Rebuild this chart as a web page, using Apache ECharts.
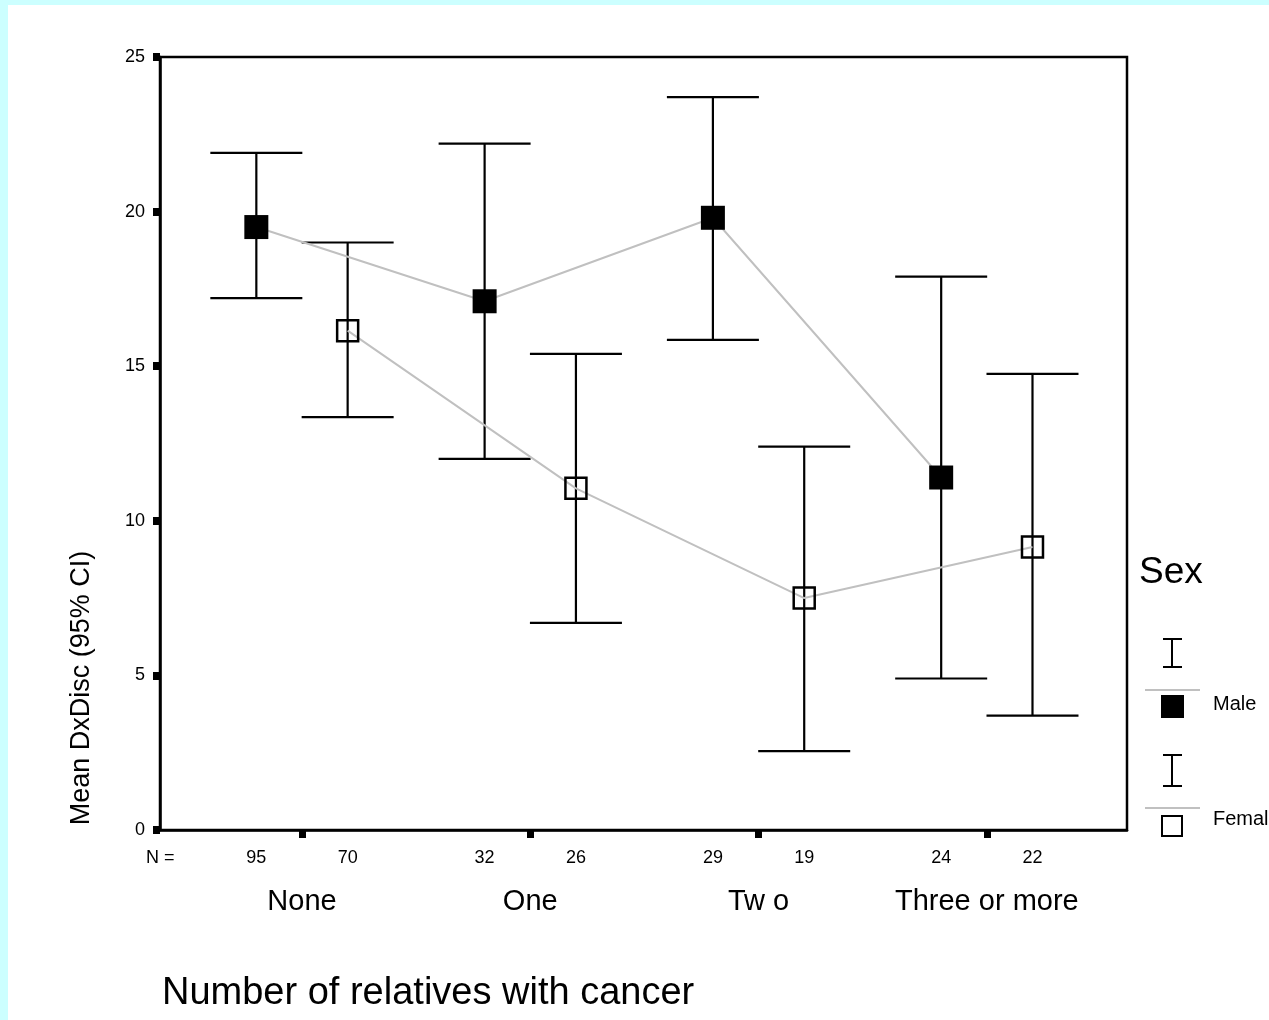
<!DOCTYPE html>
<html>
<head>
<meta charset="utf-8">
<script src="https://cdn.jsdelivr.net/npm/echarts@6/dist/echarts.min.js"></script>
<style>
  html, body { margin: 0; padding: 0; background: #ccffff; }
  #bg { position: absolute; left: 8px; top: 5px; width: 1261px; height: 1015px; background: #fff; }
  #main { position: absolute; left: 0; top: 0; width: 1269px; height: 1020px; }
</style>
</head>
<body>
<div id="bg"></div>
<div id="main"></div>
<script>
// groups on the x axis
var categories = ['None', 'One', 'Tw o', 'Three or more'];
var yTicks = [0, 5, 10, 15, 20, 25];

// Male: mean and 95% CI
var maleMean = [19.5, 17.1, 19.8, 11.4];
var maleLow = [17.2, 12.0, 15.85, 4.9];
var maleHigh = [21.9, 22.2, 23.7, 17.9];
var maleN = [95, 32, 29, 24];

// Female: mean and 95% CI
var femaleMean = [16.15, 11.05, 7.5, 9.15];
var femaleLow = [13.35, 6.7, 2.55, 3.7];
var femaleHigh = [19.0, 15.4, 12.4, 14.75];
var femaleN = [70, 26, 19, 22];

var FONT = '"Liberation Sans", Arial, sans-serif';
var shift = 0.2;   // male left of group centre, female right

function pts(means, sign) {
    var out = [];
    for (var i = 0; i < means.length; i++) {
        out.push([i + sign * shift, means[i]]);
    }
    return out;
}
function bars(lows, highs, ns, sign) {
    var out = [];
    for (var i = 0; i < lows.length; i++) {
        out.push([i + sign * shift, lows[i], highs[i], ns[i]]);
    }
    return out;
}

function errRender(params, api) {
    var x = api.value(0);
    var lo = api.coord([x, api.value(1)]);
    var hi = api.coord([x, api.value(2)]);
    var base = api.coord([x, 0]);
    var half = 46;
    var ls = { stroke: '#000', lineWidth: 2.2 };
    return {
        type: 'group',
        children: [
            { type: 'line', shape: { x1: lo[0], y1: lo[1], x2: hi[0], y2: hi[1] }, style: ls },
            { type: 'line', shape: { x1: hi[0] - half, y1: hi[1], x2: hi[0] + half, y2: hi[1] }, style: ls },
            { type: 'line', shape: { x1: lo[0] - half, y1: lo[1], x2: lo[0] + half, y2: lo[1] }, style: ls },
            { type: 'text', x: base[0], y: base[1] + 28,
              style: { text: String(api.value(3)), fill: '#000', font: '18px ' + FONT,
                       textAlign: 'center', textVerticalAlign: 'middle' } }
        ]
    };
}

var chart = echarts.init(document.getElementById('main'));
var option = {
    animation: false,
    backgroundColor: 'transparent',
    textStyle: { fontFamily: FONT, color: '#000' },
    grid: {
        left: 160, top: 57, width: 967, height: 773,
        show: true, borderColor: '#000', borderWidth: 2.5,
        backgroundColor: 'transparent',
        containLabel: false, outerBoundsMode: 'none'
    },
    xAxis: {
        type: 'value',
        min: -0.622, max: 3.614,
        splitLine: { show: false },
        axisLine: { onZero: false, lineStyle: { color: '#000', width: 2.5 } },
        axisTick: { customValues: [0, 1, 2, 3], length: 8, lineStyle: { color: '#000', width: 7 } },
        axisLabel: {
            customValues: [0, 1, 2, 3],
            formatter: function (v) { return categories[Math.round(v)]; },
            margin: 57, fontSize: 29, color: '#000', fontFamily: FONT
        }
    },
    yAxis: {
        type: 'value',
        min: 0, max: 25, interval: 5,
        splitLine: { show: false },
        axisLine: { onZero: false, lineStyle: { color: '#000', width: 2.5 } },
        axisTick: { length: 7, lineStyle: { color: '#000', width: 8 } },
        axisLabel: { margin: 15, fontSize: 18, color: '#000', fontFamily: FONT,
            formatter: function (v) { return yTicks.indexOf(v) >= 0 ? String(v) : ''; } }
    },
    series: [
        { type: 'custom', name: 'Male CI', renderItem: errRender, data: bars(maleLow, maleHigh, maleN, -1), z: 1 },
        { type: 'custom', name: 'Female CI', renderItem: errRender, data: bars(femaleLow, femaleHigh, femaleN, 1), z: 1 },
        {
            type: 'line', name: 'Male', data: pts(maleMean, -1), z: 3,
            lineStyle: { color: '#c0c0c0', width: 2 },
            symbol: 'rect', symbolSize: 24,
            itemStyle: { color: '#000' }
        },
        {
            type: 'line', name: 'Female', data: pts(femaleMean, 1), z: 3,
            lineStyle: { color: '#c0c0c0', width: 2 },
            symbol: 'rect', symbolSize: 21,
            itemStyle: { color: 'rgba(0,0,0,0)', borderColor: '#000', borderWidth: 2.5 }
        }
    ],
    graphic: [
        { type: 'text', x: 146, y: 858, style: { text: 'N =', font: '18px ' + FONT, fill: '#000', textVerticalAlign: 'middle' } },
        { type: 'text', x: 82, y: 688, rotation: Math.PI / 2,
          style: { text: 'Mean DxDisc (95% CI)', font: '27px ' + FONT, fill: '#000', textAlign: 'center', textVerticalAlign: 'middle' } },
        { type: 'text', x: 162, y: 994, style: { text: 'Number of relatives with cancer', font: '38px ' + FONT, fill: '#000', textVerticalAlign: 'middle' } },
        // legend
        { type: 'text', x: 1139, y: 573, style: { text: 'Sex', font: '37px ' + FONT, fill: '#000', textVerticalAlign: 'middle' } },
        { type: 'line', shape: { x1: 1172, y1: 639, x2: 1172, y2: 667 }, style: { stroke: '#000', lineWidth: 2 } },
        { type: 'line', shape: { x1: 1163, y1: 639, x2: 1182, y2: 639 }, style: { stroke: '#000', lineWidth: 2 } },
        { type: 'line', shape: { x1: 1163, y1: 667, x2: 1182, y2: 667 }, style: { stroke: '#000', lineWidth: 2 } },
        { type: 'line', shape: { x1: 1145, y1: 690, x2: 1200, y2: 690 }, style: { stroke: '#c0c0c0', lineWidth: 2 } },
        { type: 'rect', shape: { x: 1161, y: 695, width: 23, height: 23 }, style: { fill: '#000' } },
        { type: 'text', x: 1213, y: 704, style: { text: 'Male', font: '20px ' + FONT, fill: '#000', textVerticalAlign: 'middle' } },
        { type: 'line', shape: { x1: 1172, y1: 755, x2: 1172, y2: 786 }, style: { stroke: '#000', lineWidth: 2 } },
        { type: 'line', shape: { x1: 1163, y1: 755, x2: 1182, y2: 755 }, style: { stroke: '#000', lineWidth: 2 } },
        { type: 'line', shape: { x1: 1163, y1: 786, x2: 1182, y2: 786 }, style: { stroke: '#000', lineWidth: 2 } },
        { type: 'line', shape: { x1: 1145, y1: 808, x2: 1200, y2: 808 }, style: { stroke: '#c0c0c0', lineWidth: 2 } },
        { type: 'rect', shape: { x: 1162, y: 816, width: 20, height: 20 }, style: { fill: 'none', stroke: '#000', lineWidth: 2 } },
        { type: 'text', x: 1213, y: 819, style: { text: 'Female', font: '20px ' + FONT, fill: '#000', textVerticalAlign: 'middle' } }
    ]
};
chart.setOption(option);
window.addEventListener('resize', chart.resize);
</script>
</body>
</html>
